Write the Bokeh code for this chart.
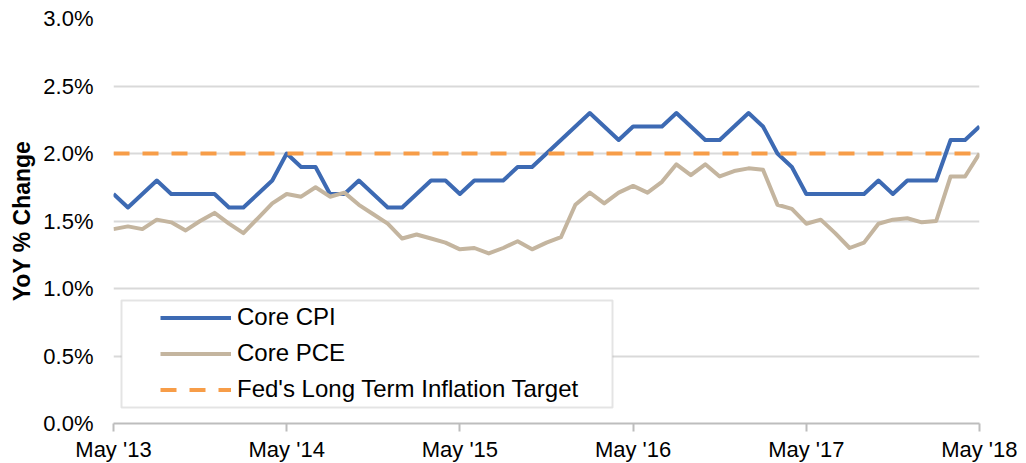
from bokeh.plotting import figure
from bokeh.models import (Range1d, FixedTicker, PrintfTickFormatter, Legend,
                          LegendItem, BoxAnnotation, Label)
from bokeh.embed import file_html
from bokeh.resources import INLINE

# ---- data (YoY % change, monthly May 2013 .. May 2018) ----
months = list(range(61))
core_cpi = [1.7, 1.6, 1.7, 1.8, 1.7, 1.7, 1.7, 1.7, 1.6, 1.6,
            1.7, 1.8, 2.0, 1.9, 1.9, 1.7, 1.7, 1.8, 1.7, 1.6,
            1.6, 1.7, 1.8, 1.8, 1.7, 1.8, 1.8, 1.8, 1.9, 1.9,
            2.0, 2.1, 2.2, 2.3, 2.2, 2.1, 2.2, 2.2, 2.2, 2.3,
            2.2, 2.1, 2.1, 2.2, 2.3, 2.2, 2.0, 1.9, 1.7, 1.7,
            1.7, 1.7, 1.7, 1.8, 1.7, 1.8, 1.8, 1.8, 2.1, 2.1, 2.2]
core_pce = [1.44, 1.46, 1.44, 1.51, 1.49, 1.43, 1.50, 1.56, 1.48, 1.41,
            1.52, 1.63, 1.70, 1.68, 1.75, 1.68, 1.71, 1.62, 1.55, 1.48,
            1.37, 1.40, 1.37, 1.34, 1.29, 1.30, 1.26, 1.30, 1.35, 1.29,
            1.34, 1.38, 1.62, 1.71, 1.63, 1.71, 1.76, 1.71, 1.79, 1.92,
            1.84, 1.92, 1.83, 1.87, 1.89, 1.88, 1.62, 1.59, 1.48, 1.51,
            1.41, 1.30, 1.34, 1.48, 1.51, 1.52, 1.49, 1.50, 1.83, 1.83, 2.00]
fed_target = 2.0
x_tick_months = [0, 12, 24, 36, 48, 60]
x_tick_labels = ["May '13", "May '14", "May '15", "May '16", "May '17", "May '18"]
y_ticks = [0.0, 0.5, 1.0, 1.5, 2.0, 2.5, 3.0]

FONT = "Liberation Sans"
BLUE = "#3D6AB3"
TAN = "#C4B59F"
ORANGE = "#F79D48"

p = figure(frame_width=866, frame_height=405, output_backend="svg", toolbar_location=None,
           x_range=Range1d(months[0], months[-1]), y_range=Range1d(y_ticks[0], y_ticks[-1]),
           min_border_left=113, min_border_right=38, min_border_top=18,
           min_border_bottom=32)
p.outline_line_color = None
p.background_fill_color = "white"
p.border_fill_color = "white"

# axes
p.xaxis.ticker = FixedTicker(ticks=x_tick_months)
p.xaxis.major_label_overrides = dict(zip(x_tick_months, x_tick_labels))
p.xaxis.axis_label = None
p.xaxis.axis_label_standoff = 0
p.xaxis.axis_line_color = "#BDBDBD"
p.xaxis.axis_line_width = 2
p.xaxis.major_tick_line_color = "#BDBDBD"
p.xaxis.major_tick_line_width = 2
p.xaxis.major_tick_in = 0
p.xaxis.major_tick_out = 8
p.xaxis.minor_tick_line_color = None
p.xaxis.major_label_standoff = 5
p.xaxis.major_label_text_font = FONT
p.xaxis.major_label_text_font_size = "22px"
p.xaxis.major_label_text_color = "black"

p.yaxis.ticker = FixedTicker(ticks=y_ticks)
p.yaxis.formatter = PrintfTickFormatter(format="%.1f%%")
p.yaxis.axis_line_color = None
p.yaxis.major_tick_line_color = None
p.yaxis.minor_tick_line_color = None
p.yaxis.major_tick_in = 0
p.yaxis.major_tick_out = 0
p.yaxis.major_label_standoff = 20
p.yaxis.major_label_text_font = FONT
p.yaxis.major_label_text_font_size = "22px"
p.yaxis.major_label_text_color = "black"
p.yaxis.axis_label = "YoY % Change"
p.yaxis.axis_label_text_font = FONT
p.yaxis.axis_label_text_font_style = "bold"
p.yaxis.axis_label_text_font_size = "23px"
p.yaxis.axis_label_text_color = "black"
p.yaxis.axis_label_standoff = 5

p.xgrid.visible = False
p.ygrid.ticker = FixedTicker(ticks=y_ticks)
p.ygrid.grid_line_color = "#D9D9D9"
p.ygrid.grid_line_width = 2

# series
r_cpi = p.line(months, core_cpi, line_color=BLUE, line_width=4, line_join="round")
r_pce = p.line(months, core_pce, line_color=TAN, line_width=4, line_join="round")
r_fed = p.line([months[0], months[-1]], [fed_target, fed_target], line_color=ORANGE,
               line_width=4, line_dash="16 13")

# legend box
box = BoxAnnotation(left=8, right=499, bottom=16, top=123,
                    left_units="screen", right_units="screen",
                    bottom_units="screen", top_units="screen",
                    fill_color="white", fill_alpha=1.0,
                    line_color="#A6A6A6", line_width=2)
p.add_layout(box)

legend = Legend(items=[LegendItem(label="Core CPI", renderers=[r_cpi]),
                       LegendItem(label="Core PCE", renderers=[r_pce]),
                       LegendItem(label="Fed's Long Term Inflation Target", renderers=[r_fed])],
                location=(47, 20), orientation="vertical",
                border_line_alpha=0, background_fill_alpha=0,
                padding=0, margin=0, spacing=8,
                label_height=27, glyph_height=27, glyph_width=71, label_standoff=6,
                label_text_font=FONT, label_text_font_size="24px",
                label_text_color="black")
p.add_layout(legend, "center")

# title (cut off at top as in the original)
title = Label(x=422, y=418, x_units="screen", y_units="screen",
              text="Inflation Measures", text_font=FONT, text_font_style="bold",
              text_font_size="22px", text_align="center", text_baseline="alphabetic",
              text_color="black")
p.add_layout(title)

open("out.html", "w").write(file_html(p, INLINE))
